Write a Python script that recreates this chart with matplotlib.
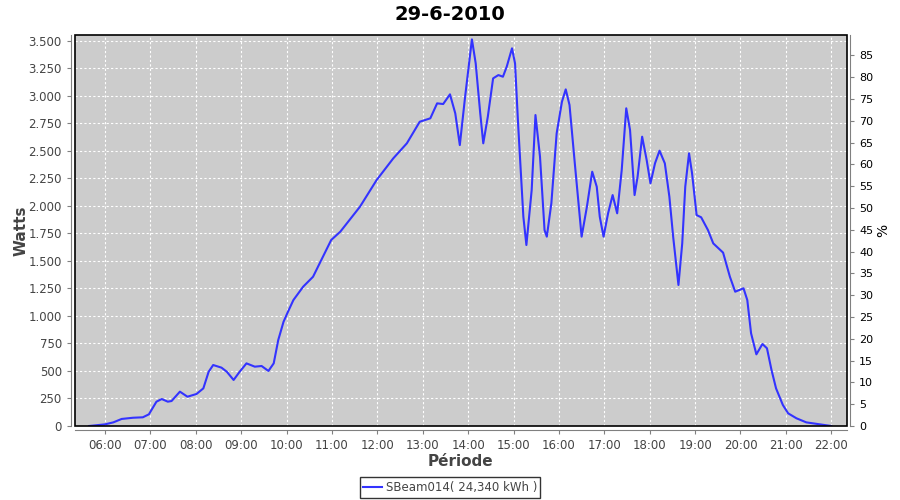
import matplotlib
matplotlib.use("Agg")
import matplotlib.pyplot as plt
from matplotlib.patches import Rectangle
from matplotlib.ticker import FixedLocator, FuncFormatter

TITLE = "29-6-2010"
SERIES_LABEL = "SBeam014( 24,340 kWh )"

# readings (time of day, power in watts)
TIMES = [
    "05:39", "06:00", "06:11", "06:22", "06:37", "06:50", "06:58", "07:08", "07:15", "07:23",
    "07:28", "07:39", "07:49", "08:01", "08:10", "08:17", "08:23", "08:34", "08:41", "08:50",
    "08:58", "09:07", "09:18", "09:27", "09:36", "09:43", "09:49", "09:56", "10:02", "10:09",
    "10:22", "10:35", "10:59", "11:11", "11:37", "11:59", "12:21", "12:39", "12:56", "13:10",
    "13:19", "13:27", "13:36", "13:43", "13:49", "13:56", "14:05", "14:10", "14:16", "14:20",
    "14:26", "14:33", "14:40", "14:46", "14:51", "14:58", "15:02", "15:06", "15:13", "15:17",
    "15:24", "15:29", "15:35", "15:41", "15:44", "15:50", "15:57", "16:04", "16:09", "16:14",
    "16:21", "16:30", "16:37", "16:44", "16:50", "16:54", "16:59", "17:05", "17:11", "17:17",
    "17:23", "17:29", "17:34", "17:40", "17:44", "17:50", "17:56", "18:01", "18:07", "18:13",
    "18:20", "18:26", "18:31", "18:38", "18:43", "18:47", "18:52", "18:56", "19:02", "19:08",
    "19:17", "19:24", "19:37", "19:46", "19:53", "20:04", "20:09", "20:14", "20:21", "20:29",
    "20:35", "20:41", "20:47", "20:56", "21:03", "21:14", "21:27", "21:45", "22:00",
]
WATTS = [
    0, 15, 33, 64, 75, 79, 106, 221, 245, 221,
    227, 312, 266, 291, 342, 493, 554, 530, 493, 418,
    493, 569, 539, 545, 500, 569, 781, 947, 1040, 1144,
    1266, 1356, 1690, 1765, 1992, 2234, 2431, 2568, 2764, 2795,
    2931, 2925, 3013, 2840, 2552, 2991, 3512, 3294, 2840, 2568,
    2809, 3158, 3188, 3173, 3264, 3431, 3294, 2749, 1901, 1644,
    2144, 2825, 2446, 1780, 1720, 2023, 2658, 2946, 3058, 2916,
    2386, 1720, 1992, 2310, 2174, 1901, 1720, 1932, 2098, 1932,
    2325, 2886, 2689, 2098, 2265, 2628, 2416, 2204, 2386, 2501,
    2386, 2083, 1720, 1281, 1659, 2174, 2477, 2295, 1916, 1896,
    1780, 1659, 1575, 1356, 1220, 1251, 1144, 842, 651, 745,
    706, 509, 342, 191, 115, 70, 33, 15, 0,
]

HOUR_TICKS = list(range(6, 23))
WATT_TICKS = list(range(0, 3501, 250))
PCT_TICKS = list(range(0, 86, 5))

LINE_COLOR = "#3333ff"
PLOT_BG = "#cccccc"
AXIS_GREY = "#808080"
TEXT_GREY = "#444444"


def to_hours(t):
    h, m = t.split(":")
    return int(h) + int(m) / 60.0


def thousands(v, _pos):
    return f"{int(v):,}".replace(",", ".")


hours = [to_hours(t) for t in TIMES]

plt.rcParams["font.family"] = "DejaVu Sans"
fig = plt.figure(figsize=(9, 5), dpi=100)
ax = fig.add_axes([75 / 900, 74 / 500, 771.7 / 900, 391 / 500])
ax.set_facecolor(PLOT_BG)

line, = ax.plot(hours, WATTS, color=LINE_COLOR, linewidth=1.5, label=SERIES_LABEL, zorder=3)

ax.set_xlim(5.339, 22.34)
ax.set_ylim(0, 3552)
ax.xaxis.set_major_locator(FixedLocator(HOUR_TICKS))
ax.xaxis.set_major_formatter(FuncFormatter(lambda v, _p: f"{int(round(v)):02d}:00"))
ax.yaxis.set_major_locator(FixedLocator(WATT_TICKS))
ax.yaxis.set_major_formatter(FuncFormatter(thousands))
ax.grid(True, color="white", linestyle=(0, (2, 2)), linewidth=0.8)
ax.set_axisbelow(True)

for side in ("top", "right"):
    ax.spines[side].set_visible(False)
for side in ("left", "bottom"):
    ax.spines[side].set_color(AXIS_GREY)
    ax.spines[side].set_position(("outward", 3))
ax.tick_params(colors=AXIS_GREY, labelcolor=TEXT_GREY, labelsize=8.5, length=3, width=0.8)

ax.set_xlabel("Période", fontsize=11, fontweight="bold", color=TEXT_GREY, labelpad=1)
ax.set_ylabel("Watts", fontsize=11, fontweight="bold", color=TEXT_GREY, labelpad=0)

# black frame round the plot area
ax.add_patch(Rectangle((0, 0), 1, 1, transform=ax.transAxes, fill=False,
                       edgecolor="black", linewidth=1.2, zorder=5, clip_on=False))

ax2 = ax.twinx()
ax2.set_ylim(0, 89.7)
ax2.yaxis.set_major_locator(FixedLocator(PCT_TICKS))
for side in ("top", "left", "bottom"):
    ax2.spines[side].set_visible(False)
ax2.spines["right"].set_color(AXIS_GREY)
ax2.spines["right"].set_position(("outward", 2.5))
ax2.tick_params(colors=AXIS_GREY, labelcolor="black", labelsize=8, length=3, width=0.8)
ax2.set_ylabel("%", fontsize=10, color="black", labelpad=2)

fig.suptitle(TITLE, fontsize=14, fontweight="bold", y=0.99)

leg = fig.legend(handles=[line], loc="center", bbox_to_anchor=(0.5, 0.025),
                 fontsize=8.5, frameon=True, fancybox=False, handlelength=1.6,
                 handletextpad=0.3, borderpad=0.3, borderaxespad=0)
leg.get_frame().set_edgecolor("black")
leg.get_frame().set_linewidth(1.0)
for txt in leg.get_texts():
    txt.set_color(TEXT_GREY)

fig.savefig("out.png", dpi=100)
